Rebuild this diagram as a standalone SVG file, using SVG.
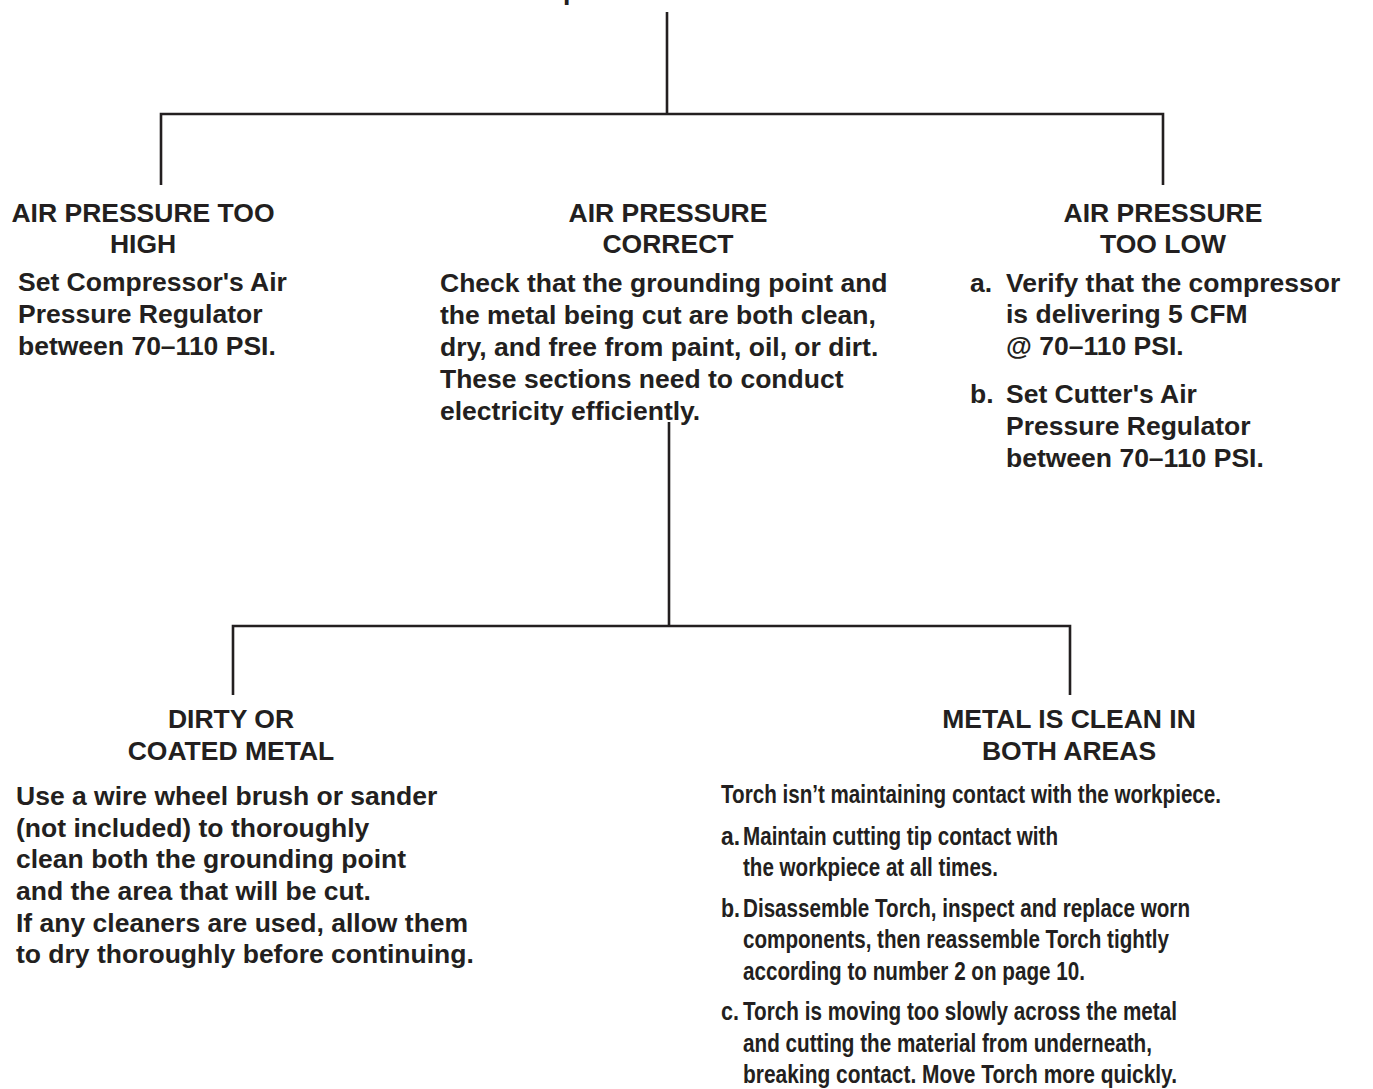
<svg xmlns="http://www.w3.org/2000/svg" width="1373" height="1089" viewBox="0 0 1373 1089">
<style>
text{font-family:"Liberation Sans",Arial,Helvetica,sans-serif;font-weight:bold;font-size:26.5px;fill:#231f20}
.c{text-anchor:middle}
.n{font-family:"Liberation Sans Narrow","Arial Narrow","Liberation Sans",sans-serif;font-size:26px}
.ln{fill:none;stroke:#231f20;stroke-width:2.6}
</style>
<rect width="1373" height="1089" fill="#ffffff"/>
<g id="connectors">
<path class="ln" d="M667 12V114"/>
<path class="ln" d="M161 185V114H1163V185"/>
<path class="ln" d="M669 422V626"/>
<path class="ln" d="M233 695V626H1070V695"/>
</g>
<g id="top">
<text x="652" y="-0.5" class="c">the compressor and the cutter</text>
</g>
<g id="too-high">
<text x="143" y="222" class="c">AIR PRESSURE TOO</text>
<text x="143" y="253" class="c">HIGH</text>
<text x="18" y="291">Set Compressor's Air</text>
<text x="18" y="323">Pressure Regulator</text>
<text x="18" y="355">between 70–110 PSI.</text>
</g>
<g id="correct">
<text x="668" y="222" class="c">AIR PRESSURE</text>
<text x="668" y="253" class="c">CORRECT</text>
<text x="440" y="292">Check that the grounding point and</text>
<text x="440" y="324">the metal being cut are both clean,</text>
<text x="440" y="356">dry, and free from paint, oil, or dirt.</text>
<text x="440" y="388">These sections need to conduct</text>
<text x="440" y="420">electricity efficiently.</text>
</g>
<g id="too-low">
<text x="1163" y="222" class="c">AIR PRESSURE</text>
<text x="1163" y="253" class="c">TOO LOW</text>
<text x="970" y="292">a.</text>
<text x="1006" y="292">Verify that the compressor</text>
<text x="1006" y="323">is delivering 5 CFM</text>
<text x="1006" y="355">@ 70–110 PSI.</text>
<text x="970" y="403">b.</text>
<text x="1006" y="403">Set Cutter's Air</text>
<text x="1006" y="435">Pressure Regulator</text>
<text x="1006" y="467">between 70–110 PSI.</text>
</g>
<g id="dirty">
<text x="231" y="728" class="c">DIRTY OR</text>
<text x="231" y="760" class="c">COATED METAL</text>
<text x="16" y="805">Use a wire wheel brush or sander</text>
<text x="16" y="837">(not included) to thoroughly</text>
<text x="16" y="868">clean both the grounding point</text>
<text x="16" y="900">and the area that will be cut.</text>
<text x="16" y="932">If any cleaners are used, allow them</text>
<text x="16" y="963">to dry thoroughly before continuing.</text>
</g>
<g id="clean">
<text x="1069" y="728" class="c">METAL IS CLEAN IN</text>
<text x="1069" y="760" class="c">BOTH AREAS</text>
<text x="721" y="803" class="n" textLength="500" lengthAdjust="spacingAndGlyphs">Torch isn’t maintaining contact with the workpiece.</text>
<text x="721" y="845" class="n" textLength="19" lengthAdjust="spacingAndGlyphs">a.</text>
<text x="743" y="845" class="n" textLength="315" lengthAdjust="spacingAndGlyphs">Maintain cutting tip contact with</text>
<text x="743" y="876" class="n" textLength="255" lengthAdjust="spacingAndGlyphs">the workpiece at all times.</text>
<text x="721" y="917" class="n" textLength="19" lengthAdjust="spacingAndGlyphs">b.</text>
<text x="743" y="917" class="n" textLength="447" lengthAdjust="spacingAndGlyphs">Disassemble Torch, inspect and replace worn</text>
<text x="743" y="948" class="n" textLength="426" lengthAdjust="spacingAndGlyphs">components, then reassemble Torch tightly</text>
<text x="743" y="980" class="n" textLength="342" lengthAdjust="spacingAndGlyphs">according to number 2 on page 10.</text>
<text x="721" y="1020" class="n" textLength="18" lengthAdjust="spacingAndGlyphs">c.</text>
<text x="743" y="1020" class="n" textLength="434" lengthAdjust="spacingAndGlyphs">Torch is moving too slowly across the metal</text>
<text x="743" y="1052" class="n" textLength="409" lengthAdjust="spacingAndGlyphs">and cutting the material from underneath,</text>
<text x="743" y="1083" class="n" textLength="434" lengthAdjust="spacingAndGlyphs">breaking contact.  Move Torch more quickly.</text>
</g>
</svg>
